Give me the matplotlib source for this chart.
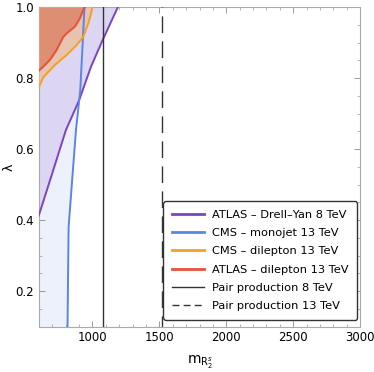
import numpy as np
import matplotlib
matplotlib.use("Agg")
import matplotlib.pyplot as plt
from matplotlib.ticker import MultipleLocator
from matplotlib.lines import Line2D

# limits
atlas_dy_m = [600, 700, 802, 901, 989, 1076, 1190]
atlas_dy_l = [0.414, 0.532, 0.654, 0.738, 0.832, 0.907, 1.0]

cms_mono_m = [814, 818, 822, 839, 877, 909, 932, 940]
cms_mono_l = [0.10, 0.25, 0.38, 0.466, 0.654, 0.766, 0.935, 1.0]

cms_dilep_m = [600, 632, 720, 807, 882, 931, 969, 986, 1001]
cms_dilep_l = [0.774, 0.802, 0.837, 0.865, 0.893, 0.916, 0.954, 0.977, 1.0]

atlas_dilep_m = [600, 632, 682, 732, 782, 807, 869, 906, 931, 944]
atlas_dilep_l = [0.821, 0.832, 0.851, 0.879, 0.916, 0.926, 0.945, 0.968, 0.992, 1.0]

pair_8 = 1077
pair_13 = 1518

labels = ["ATLAS – Drell–Yan 8 TeV", "CMS – monojet 13 TeV",
          "CMS – dilepton 13 TeV", "ATLAS – dilepton 13 TeV",
          "Pair production 8 TeV", "Pair production 13 TeV"]

c_purple = "#7b44c8"
c_blue = "#5a85e6"
c_orange = "#f5a01e"
c_red = "#e8503a"

plt.rcParams['font.family'] = ['DejaVu Sans']
plt.rcParams['font.size'] = 8.5

fig = plt.figure(figsize=(3.74, 3.72), dpi=100)
ax = fig.add_axes([0.104, 0.122, 0.859, 0.859])

xmin, xmax = 600, 3000
ymin, ymax = 0.1, 1.0

# fills
ax.fill_betweenx(cms_mono_l, xmin, cms_mono_m, color="#edf1fc", lw=0, zorder=1)
ax.fill_betweenx(atlas_dy_l, xmin, atlas_dy_m, color="#ddd6f3", lw=0, zorder=2)
ax.fill_between(cms_dilep_m, cms_dilep_l, ymax, color="#e9c2b0", lw=0, zorder=3)
ax.fill_between(atlas_dilep_m, atlas_dilep_l, ymax, color="#de8f73", lw=0, zorder=4)

# lines
ax.plot(atlas_dy_m, atlas_dy_l, color=c_purple, lw=1.4, zorder=5)
ax.plot(cms_mono_m, cms_mono_l, color=c_blue, lw=1.4, zorder=5)
ax.plot(cms_dilep_m, cms_dilep_l, color=c_orange, lw=1.4, zorder=5)
ax.plot(atlas_dilep_m, atlas_dilep_l, color=c_red, lw=1.4, zorder=5)
ax.axvline(pair_8, color="#333333", lw=1.0, zorder=6)
ax.axvline(pair_13, color="#333333", lw=1.0, ls=(4, (12, 6)), zorder=6)

ax.set_xlim(xmin, xmax)
ax.set_ylim(ymin, ymax)
ax.xaxis.set_major_locator(MultipleLocator(500))
ax.xaxis.set_minor_locator(MultipleLocator(100))
ax.yaxis.set_major_locator(MultipleLocator(0.2))
ax.yaxis.set_minor_locator(MultipleLocator(0.05))
ax.tick_params(which="both", direction="in", top=True, right=True,
               color="#999999", labelcolor="black")
ax.tick_params(which="major", length=4, width=0.7)
ax.tick_params(which="minor", length=2, width=0.5)
for s in ax.spines.values():
    s.set_color("#aaaaaa")
    s.set_linewidth(0.8)
ax.set_xlabel(r"$\mathregular{m}_{\mathregular{R}_2^s}$", fontsize=10, labelpad=7)
ax.set_ylabel("λ", fontsize=9)
ax.yaxis.set_label_coords(-0.072, 0.5)

handles = [Line2D([], [], color=c_purple, lw=2),
           Line2D([], [], color=c_blue, lw=2),
           Line2D([], [], color=c_orange, lw=2),
           Line2D([], [], color=c_red, lw=2),
           Line2D([], [], color="#333333", lw=1),
           Line2D([], [], color="#333333", lw=1, ls=(0, (5, 3)))]
leg = ax.legend(handles, labels, loc="lower right", bbox_to_anchor=(0.997, 0.015),
                fontsize=8.2, frameon=True, fancybox=True, handlelength=2.8,
                labelspacing=0.72, borderpad=0.75, handletextpad=0.7,
                borderaxespad=0.2)
leg.get_frame().set_edgecolor("#333333")
leg.get_frame().set_linewidth(1.0)
leg.get_frame().set_alpha(1)
leg.set_zorder(10)

fig.savefig("out.png", dpi=100)
